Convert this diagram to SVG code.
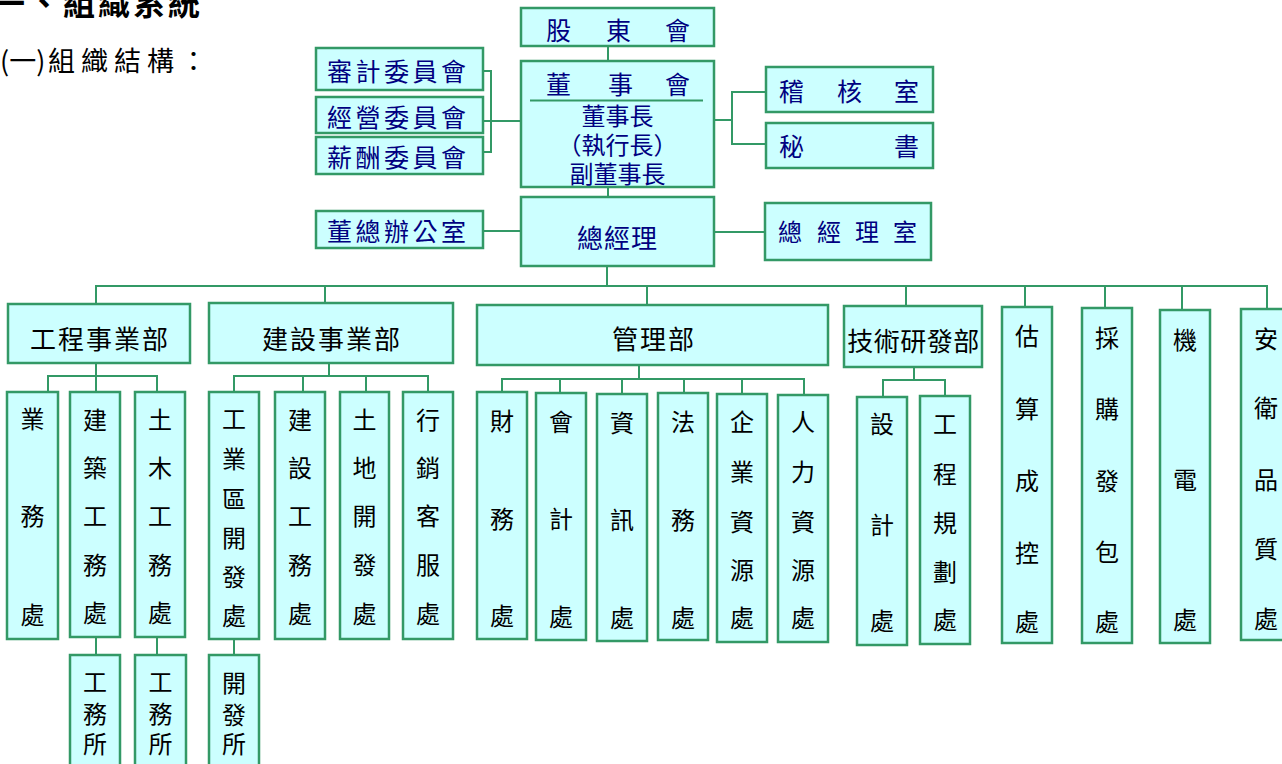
<svg xmlns="http://www.w3.org/2000/svg" width="1282" height="764" viewBox="0 0 1282 764">
<style>
.b{fill:#CCFFFF;stroke:#339966;stroke-width:2.5}
.c{fill:none;stroke:#339966;stroke-width:2}
text{font-family:"Noto Sans CJK TC","Noto Sans CJK SC",sans-serif;dominant-baseline:central}
.n{fill:#000080;font-size:25px}
.k{fill:#000;font-size:24px;text-anchor:middle}
.h{fill:#000;font-size:26px;text-anchor:middle;letter-spacing:2px}
</style>
<rect width="1282" height="764" fill="#fff"/>
<text x="-7" y="1" style="font-size:32px;font-weight:bold;letter-spacing:3px;fill:#000">一、組織系統</text>
<text x="0" y="59" style="font-size:27px;fill:#000">(一)<tspan x="48" style="letter-spacing:6px">組織結構：</tspan></text>

<g id="connectors">
<path class="c" d="M608 46V61M608 187V197M607 266V286"/>
<path class="c" d="M96 304V286H1267V310M325 286V303M647 286V305M906 286V306M1025 286V307M1105 286V308M1182 286V310"/>
<path class="c" d="M483 71H491V152H483M483 121H521M483 231H521"/>
<path class="c" d="M714 120H732M766 92H732V144H766M714 232H765"/>
<path class="c" d="M96 363V376M48 392V376H157V392M96 376V392"/>
<path class="c" d="M329 363V376M234 392V376H428V392M303 376V392M366 376V392"/>
<path class="c" d="M639 365V379M502 392V379H804V395M560 379V393M622 379V394M684 379V393M742 379V394"/>
<path class="c" d="M914 367V380M883 397V380H945V396"/>
<path class="c" d="M96 637V655M157 637V655M234 639V655"/>
</g>

<g id="n-gudong"><rect class="b" x="521" y="8" width="193" height="38"/><text class="n" x="546 606 665" y="29">股東會</text></g>
<g id="n-dongshi"><rect class="b" x="521" y="61" width="193" height="126"/>
<text class="n" x="546 608 665" y="83">董事會</text>
<line x1="530" y1="100.5" x2="703" y2="100.5" stroke="#339966" stroke-width="2"/>
<text class="n" x="617.5" y="114" style="text-anchor:middle;font-size:24px">董事長</text>
<text class="n" x="617.5" y="143" style="text-anchor:middle;font-size:24px">（執行長）</text>
<text class="n" x="617.5" y="172" style="text-anchor:middle;font-size:24px">副董事長</text>
</g>
<g id="n-zjl"><rect class="b" x="521" y="197" width="193" height="69"/><text class="n" x="617.5" y="236" style="text-anchor:middle;font-size:26px;letter-spacing:1px">總經理</text></g>
<g id="n-shenji"><rect class="b" x="316" y="48" width="167" height="42"/><text class="n" x="327" y="70" style="letter-spacing:3.5px">審計委員會</text></g>
<g id="n-jingying"><rect class="b" x="316" y="97" width="167" height="36"/><text class="n" x="327" y="116" style="letter-spacing:3.5px">經營委員會</text></g>
<g id="n-xinchou"><rect class="b" x="316" y="137" width="167" height="37"/><text class="n" x="327" y="156" style="letter-spacing:3.5px">薪酬委員會</text></g>
<g id="n-dongzong"><rect class="b" x="316" y="211" width="167" height="37"/><text class="n" x="327" y="230" style="letter-spacing:3.5px">董總辦公室</text></g>
<g id="n-jihe"><rect class="b" x="766" y="67" width="167" height="45"/><text class="n" x="779 837 894" y="90">稽核室</text></g>
<g id="n-mishu"><rect class="b" x="766" y="123" width="167" height="45"/><text class="n" x="779 894" y="145">秘書</text></g>
<g id="n-zjls"><rect class="b" x="765" y="203" width="166" height="57"/><text class="n" x="778 817 855 893" y="230" style="font-size:24px">總經理室</text></g>

<g id="n-gc"><rect class="b" x="8" y="304" width="182" height="59"/><text class="h" x="100" y="337">工程事業部</text></g>
<g id="n-js"><rect class="b" x="209" y="303" width="244" height="60"/><text class="h" x="332" y="337">建設事業部</text></g>
<g id="n-gl"><rect class="b" x="477" y="305" width="351" height="60"/><text class="h" x="654" y="337">管理部</text></g>
<g id="n-jsyf"><rect class="b" x="844" y="306" width="138" height="61"/><text class="h" x="913.5" y="339" style="letter-spacing:0.5px">技術研發部</text></g>

<g id="n-gusuan"><rect class="b" x="1002" y="307" width="50" height="336"/><text class="k" x="1027 1027 1027 1027 1027" y="334 407 479 551 620">估算成控處</text></g>
<g id="n-caigou"><rect class="b" x="1082" y="308" width="50" height="335"/><text class="k" x="1107 1107 1107 1107 1107" y="336 407 479 550 620">採購發包處</text></g>
<g id="n-jidian"><rect class="b" x="1160" y="310" width="50" height="333"/><text class="k" x="1185 1185 1185" y="338 478 618">機電處</text></g>
<g id="n-anwei"><rect class="b" x="1241" y="309" width="50" height="331"/><text class="k" x="1266 1266 1266 1266 1266" y="337 406 478 547 617">安衛品質處</text></g>

<g id="n-yewu"><rect class="b" x="7" y="392" width="51" height="247"/><text class="k" x="32.5 32.5 32.5" y="417 514 613">業務處</text></g>
<g id="n-jianzhu"><rect class="b" x="70" y="392" width="50" height="245"/><text class="k" x="95 95 95 95 95" y="418 466 514 563 611">建築工務處</text></g>
<g id="n-tumu"><rect class="b" x="135" y="392" width="50" height="245"/><text class="k" x="160 160 160 160 160" y="418 466 514 563 611">土木工務處</text></g>
<g id="n-gyq"><rect class="b" x="209" y="392" width="50" height="247"/><text class="k" x="234 234 234 234 234 234" y="417 457 497 536 575 614">工業區開發處</text></g>
<g id="n-jsgw"><rect class="b" x="275" y="392" width="50" height="247"/><text class="k" x="300 300 300 300 300" y="418 466 514 563 612">建設工務處</text></g>
<g id="n-tdkf"><rect class="b" x="340" y="392" width="49" height="247"/><text class="k" x="364.5 364.5 364.5 364.5 364.5" y="418 466 514 563 612">土地開發處</text></g>
<g id="n-xxkf"><rect class="b" x="403" y="392" width="50" height="247"/><text class="k" x="428 428 428 428 428" y="418 466 514 563 612">行銷客服處</text></g>
<g id="n-gws1"><rect class="b" x="70" y="655" width="50" height="120"/><text class="k" x="95 95 95" y="680 712 742">工務所</text></g>
<g id="n-gws2"><rect class="b" x="135" y="655" width="51" height="120"/><text class="k" x="160.5 160.5 160.5" y="680 712 742">工務所</text></g>
<g id="n-kfs"><rect class="b" x="209" y="655" width="50" height="120"/><text class="k" x="234 234 234" y="681 713 742">開發所</text></g>

<g id="n-caiwu"><rect class="b" x="477" y="392" width="50" height="247"/><text class="k" x="502 502 502" y="419 517 614">財務處</text></g>
<g id="n-kuaiji"><rect class="b" x="536" y="393" width="50" height="247"/><text class="k" x="561 561 561" y="420 517 615">會計處</text></g>
<g id="n-zixun"><rect class="b" x="597" y="394" width="50" height="247"/><text class="k" x="622 622 622" y="421 518 616">資訊處</text></g>
<g id="n-fawu"><rect class="b" x="658" y="393" width="50" height="247"/><text class="k" x="683 683 683" y="420 518 616">法務處</text></g>
<g id="n-qiye"><rect class="b" x="717" y="394" width="50" height="248"/><text class="k" x="742 742 742 742 742" y="420 470 520 568 616">企業資源處</text></g>
<g id="n-renli"><rect class="b" x="778" y="395" width="50" height="247"/><text class="k" x="803 803 803 803 803" y="420 470 520 568 616">人力資源處</text></g>
<g id="n-sheji"><rect class="b" x="857" y="397" width="50" height="248"/><text class="k" x="882 882 882" y="422 523 619">設計處</text></g>
<g id="n-gcgh"><rect class="b" x="920" y="396" width="50" height="248"/><text class="k" x="945 945 945 945 945" y="422 472 521 570 618">工程規劃處</text></g>
</svg>
